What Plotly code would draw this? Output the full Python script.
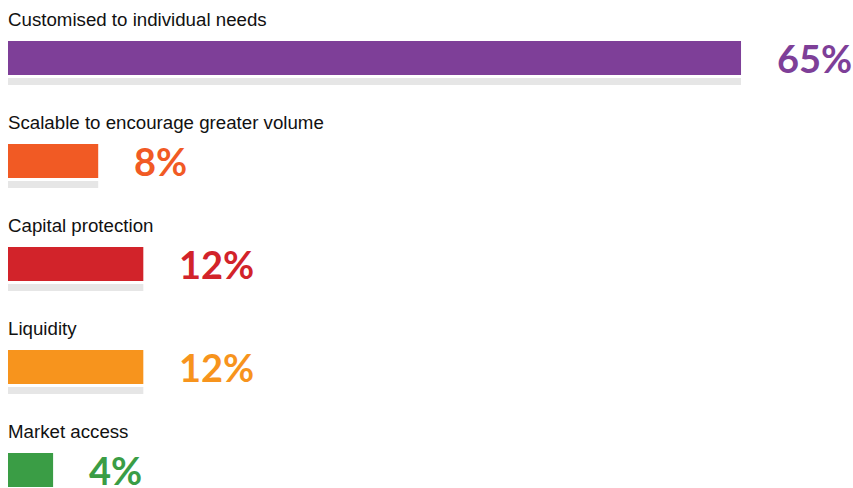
import plotly.graph_objects as go

# Survey results: share of respondents choosing each priority
categories = [
    "Customised to individual needs",
    "Scalable to encourage greater volume",
    "Capital protection",
    "Liquidity",
    "Market access",
]
values = [65, 8, 12, 12, 4]
colors = ["#7E3F98", "#F15A24", "#D2232A", "#F7941D", "#3A9D45"]
shadow_color = "#E6E6E6"

rows = list(range(len(categories)))
bar_w = 0.33          # thickness of the coloured bar (row units)
shadow_w = 0.068      # thickness of the grey strip under each bar
shadow_gap = 0.228    # offset of the grey strip below the bar centre

fig = go.Figure()

# grey strip beneath each bar
fig.add_trace(go.Bar(
    x=values,
    y=[r + shadow_gap for r in rows],
    orientation="h",
    width=shadow_w,
    marker=dict(color=shadow_color, line=dict(width=0)),
    hoverinfo="skip",
    showlegend=False,
))

# coloured bars
fig.add_trace(go.Bar(
    x=values,
    y=rows,
    orientation="h",
    width=bar_w,
    marker=dict(color=colors, line=dict(width=0)),
    customdata=categories,
    hovertemplate="%{customdata}: %{x}%<extra></extra>",
    showlegend=False,
))

annotations = []
for r, cat, v, c in zip(rows, categories, values, colors):
    # category caption above the bar
    annotations.append(dict(
        x=0, y=r, xref="x", yref="y",
        text=cat, showarrow=False,
        xanchor="left", yanchor="middle",
        xshift=-2, yshift=38,
        font=dict(family="Liberation Sans, Arial, sans-serif", size=18.7, color="#111111"),
    ))
    # percentage value to the right of the bar
    annotations.append(dict(
        x=v, y=r, xref="x", yref="y",
        text=f"<b>{v}%</b>", showarrow=False,
        xanchor="left", yanchor="middle",
        xshift=34, yshift=0,
        font=dict(family="Lato, sans-serif", size=38, color=c),
    ))

fig.update_layout(
    width=853, height=488,
    margin=dict(l=0, r=0, t=0, b=0),
    paper_bgcolor="white", plot_bgcolor="white",
    barmode="overlay",
    annotations=annotations,
    xaxis=dict(range=[-0.709, 74.93], visible=False, fixedrange=True),
    yaxis=dict(range=[4.175, -0.563], visible=False, fixedrange=True),
)

fig.write_html("out.html")
